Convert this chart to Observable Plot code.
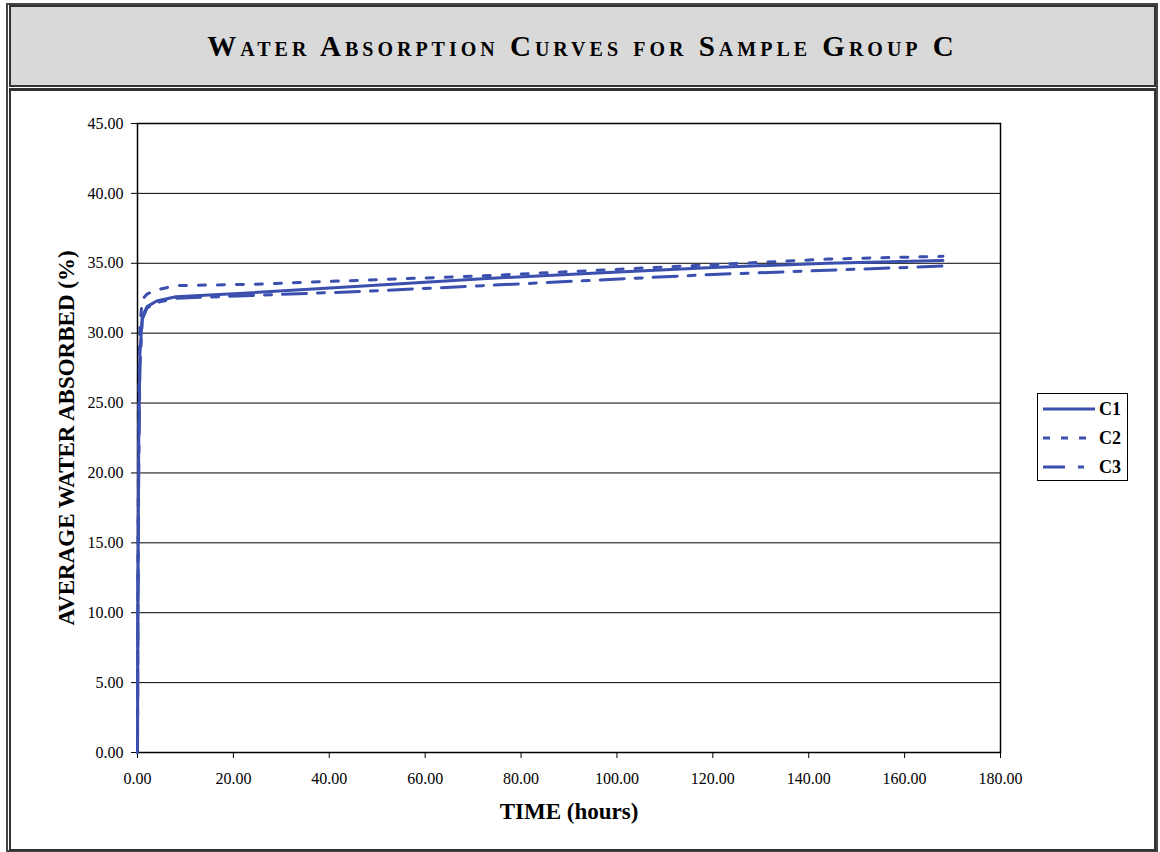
<!DOCTYPE html>
<html>
<head>
<meta charset="utf-8">
<script src="https://cdn.jsdelivr.net/npm/d3@7"></script>
<script src="https://cdn.jsdelivr.net/npm/@observablehq/plot@0.6"></script>
<style>
  html, body { margin: 0; padding: 0; background: #ffffff; }
  body { width: 1160px; height: 852px; position: relative; overflow: hidden;
         font-family: "Liberation Serif", "Times New Roman", serif; }
  #outer { position: absolute; left: 6px; top: 3px; width: 1148px; height: 845px;
           border: 2px solid #444; }
  #titlebox { position: absolute; left: 9px; top: 5px; width: 1143px; height: 78px;
              background: #d9d9d9; border: 2px solid #333;
              display: flex; align-items: center; justify-content: center; }
  #title { font-weight: bold; font-variant: small-caps; font-size: 29px;
           letter-spacing: 4px; color: #000; margin-top: 0px; }
  #chartbox { position: absolute; left: 9px; top: 88px; width: 1143px; height: 758px;
              border: 2px solid #333; border-top-width: 3px; }
  #chart { position: absolute; left: 0; top: 90px; }
  #legend { position: absolute; left: 1037px; top: 393px; width: 89px; height: 86px;
            border: 1px solid #000; background: #fff; }
  .item { position: absolute; left: 5px; height: 20px; display: flex; align-items: center; }
  .item span { font-weight: bold; font-size: 18px; margin-left: 4px; }
</style>
</head>
<body>
<div id="outer"></div>
<div id="titlebox"><div id="title">Water Absorption Curves for Sample Group C</div></div>
<div id="chartbox"></div>
<div id="chart"></div>
<div id="legend"></div>
<script>
// Elapsed immersion time (hours) for each weighing
const times = [0, 0.08, 0.25, 0.5, 1, 2, 4, 8, 24, 48, 72, 96, 120, 144, 168];

// Average water absorbed (%) per sample
const c1 = [0, 10, 22, 28.5, 31.2, 31.9, 32.3, 32.6, 32.9, 33.4, 33.9, 34.3, 34.7, 35.0, 35.2];
const c2 = [0, 12, 25, 30.5, 32.4, 32.8, 33.1, 33.4, 33.5, 33.8, 34.1, 34.5, 34.9, 35.3, 35.5];
const c3 = [0, 9, 20, 27.5, 31.0, 31.8, 32.2, 32.5, 32.7, 33.0, 33.4, 33.8, 34.2, 34.5, 34.8];

const seriesNames = ["C1", "C2", "C3"];
const seriesValues = [c1, c2, c3];
const dashes = [null, "7,12", "24,11,7,11"];
const legendDashes = [null, "7,11", "22,13,6,13"];

const xTicks = [0, 20, 40, 60, 80, 100, 120, 140, 160, 180];
const yTicks = [0, 5, 10, 15, 20, 25, 30, 35, 40, 45];

const lineColor = "#3a4fae";

const rows = seriesNames.flatMap((name, i) =>
  times.map((t, j) => ({series: name, time: t, value: seriesValues[i][j]})));

const fmt = d3.format(".2f");

const chart = Plot.plot({
  width: 1160,
  height: 760,
  marginLeft: 137,
  marginRight: 160,
  marginTop: 33,
  marginBottom: 98,
  style: {fontFamily: "'Liberation Serif', 'Times New Roman', serif", fontSize: "16px", color: "#000", background: "transparent"},
  x: {domain: [0, 180]},
  y: {domain: [0, 45]},
  marks: [
    Plot.ruleY(yTicks.filter(d => d > 0), {stroke: "#000", strokeWidth: 1}),
    Plot.frame({stroke: "#000", strokeWidth: 1.5}),
    Plot.axisX({ticks: xTicks, tickFormat: fmt, tickSize: 6, tickPadding: 14,
      label: "TIME (hours)", labelAnchor: "center", labelArrow: "none", labelOffset: 66}),
    Plot.axisY({ticks: yTicks, tickFormat: fmt, tickSize: 6, tickPadding: 8,
      label: "AVERAGE WATER ABSORBED (%)", labelAnchor: "center", labelArrow: "none", labelOffset: 80}),
    ...seriesNames.map((name, i) =>
      Plot.line(rows.filter(r => r.series === name), {
        x: "time", y: "value", stroke: lineColor, strokeWidth: 3,
        strokeDasharray: dashes[i] ?? undefined, curve: "linear"
      }))
  ]
});

// bold axis titles
chart.querySelectorAll("g[aria-label='x-axis label'] text, g[aria-label='y-axis label'] text")
  .forEach(t => { t.setAttribute("font-weight", "bold"); t.setAttribute("font-size", "23px"); });

document.getElementById("chart").appendChild(chart);

// legend
const legend = document.getElementById("legend");
seriesNames.forEach((name, i) => {
  const item = document.createElement("div");
  item.className = "item";
  item.style.top = (5 + i * 29) + "px";
  const svg = d3.create("svg").attr("width", 52).attr("height", 20);
  svg.append("line").attr("x1", 0).attr("x2", 52).attr("y1", 10).attr("y2", 10)
    .attr("stroke", lineColor).attr("stroke-width", 3)
    .attr("stroke-dasharray", legendDashes[i]);
  item.appendChild(svg.node());
  const label = document.createElement("span");
  label.textContent = name;
  item.appendChild(label);
  legend.appendChild(item);
});
</script>
</body>
</html>
